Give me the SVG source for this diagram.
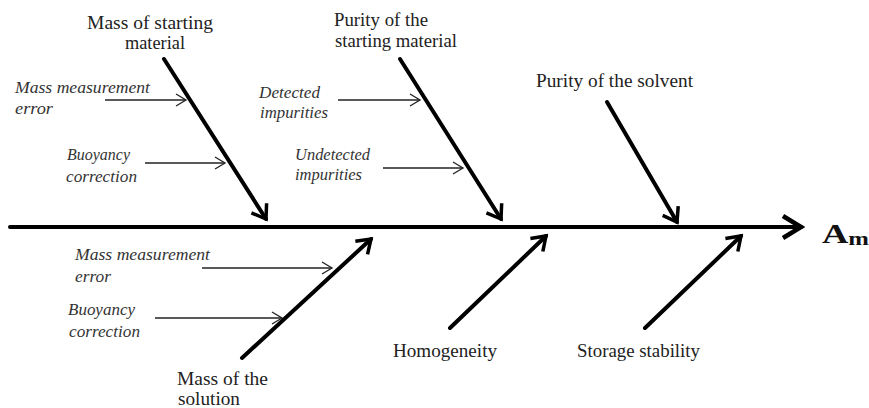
<svg xmlns="http://www.w3.org/2000/svg" width="869" height="408" viewBox="0 0 869 408">
<style>
.lbl{font-family:"Liberation Serif","Times New Roman",serif;font-size:18px;fill:#222}
.it{font-family:"Liberation Serif","Times New Roman",serif;font-style:italic;font-size:17px;fill:#333}
.bone{stroke:#000;stroke-width:4;fill:none;stroke-linecap:round}
.sm{stroke:#222;stroke-width:1.3;fill:none}
</style>
<defs>
<marker id="big" markerUnits="userSpaceOnUse" viewBox="-20 -14 24 28" markerWidth="24" markerHeight="28" refX="0" refY="0" orient="auto">
<path d="M-13,-9 L0,0 L-13,9" fill="none" stroke="#000" stroke-width="3.5" stroke-linejoin="miter"/>
</marker>
<marker id="spine" markerUnits="userSpaceOnUse" viewBox="-24 -16 28 32" markerWidth="28" markerHeight="32" refX="0" refY="0" orient="auto">
<path d="M-18,-11 L0,0 L-18,11" fill="none" stroke="#000" stroke-width="4.5" stroke-linejoin="miter"/>
</marker>
<marker id="small" markerUnits="userSpaceOnUse" viewBox="-12 -8 14 16" markerWidth="14" markerHeight="16" refX="0" refY="0" orient="auto">
<path d="M-10,-6 L0,0 L-10,6" fill="none" stroke="#222" stroke-width="1.3"/>
</marker>
</defs>
<g id="connectors">
<line class="bone" x1="10" y1="227" x2="801" y2="227" marker-end="url(#spine)" stroke-width="4.5"/>
<line class="bone" x1="164" y1="59" x2="266" y2="219" marker-end="url(#big)"/>
<line class="bone" x1="400" y1="59" x2="501" y2="219" marker-end="url(#big)"/>
<line class="bone" x1="607" y1="102" x2="677" y2="222" marker-end="url(#big)"/>
<line class="bone" x1="242" y1="358" x2="371" y2="239" marker-end="url(#big)"/>
<line class="bone" x1="450" y1="328" x2="546" y2="236" marker-end="url(#big)"/>
<line class="bone" x1="645" y1="328" x2="741" y2="236" marker-end="url(#big)"/>
<line class="sm" x1="105" y1="100" x2="186" y2="100" marker-end="url(#small)"/>
<line class="sm" x1="145" y1="163" x2="225" y2="163" marker-end="url(#small)"/>
<line class="sm" x1="338" y1="100" x2="420" y2="100" marker-end="url(#small)"/>
<line class="sm" x1="383" y1="168" x2="463" y2="168" marker-end="url(#small)"/>
<line class="sm" x1="202" y1="268" x2="332" y2="268" marker-end="url(#small)"/>
<line class="sm" x1="155" y1="318" x2="282" y2="318" marker-end="url(#small)"/>
</g>
<g id="node-mass-starting">
<text class="lbl" x="87" y="29" textLength="126" lengthAdjust="spacingAndGlyphs">Mass of starting</text>
<text class="lbl" x="125" y="49" textLength="60" lengthAdjust="spacingAndGlyphs">material</text>
</g>
<g id="node-mme-upper">
<text class="it" x="15" y="93" textLength="135" lengthAdjust="spacingAndGlyphs">Mass measurement</text>
<text class="it" x="15" y="114" textLength="38" lengthAdjust="spacingAndGlyphs">error</text>
</g>
<g id="node-buoy-upper">
<text class="it" x="67" y="160" textLength="63" lengthAdjust="spacingAndGlyphs">Buoyancy</text>
<text class="it" x="66" y="182" textLength="71" lengthAdjust="spacingAndGlyphs">correction</text>
</g>
<g id="node-purity-start">
<text class="lbl" x="334" y="26" textLength="94" lengthAdjust="spacingAndGlyphs">Purity of the</text>
<text class="lbl" x="335" y="47" textLength="122" lengthAdjust="spacingAndGlyphs">starting material</text>
</g>
<g id="node-detected">
<text class="it" x="259" y="98" textLength="61" lengthAdjust="spacingAndGlyphs">Detected</text>
<text class="it" x="260" y="118" textLength="68" lengthAdjust="spacingAndGlyphs">impurities</text>
</g>
<g id="node-undetected">
<text class="it" x="295" y="160" textLength="75" lengthAdjust="spacingAndGlyphs">Undetected</text>
<text class="it" x="295" y="180" textLength="67" lengthAdjust="spacingAndGlyphs">impurities</text>
</g>
<g id="node-purity-solvent">
<text class="lbl" x="536" y="87" textLength="157" lengthAdjust="spacingAndGlyphs">Purity of the solvent</text>
</g>
<g id="node-mme-lower">
<text class="it" x="75" y="260" textLength="135" lengthAdjust="spacingAndGlyphs">Mass measurement</text>
<text class="it" x="75" y="282" textLength="36" lengthAdjust="spacingAndGlyphs">error</text>
</g>
<g id="node-buoy-lower">
<text class="it" x="68" y="315" textLength="67" lengthAdjust="spacingAndGlyphs">Buoyancy</text>
<text class="it" x="69" y="337" textLength="71" lengthAdjust="spacingAndGlyphs">correction</text>
</g>
<g id="node-mass-solution">
<text class="lbl" x="177" y="385" textLength="91" lengthAdjust="spacingAndGlyphs">Mass of the</text>
<text class="lbl" x="178" y="405" textLength="62" lengthAdjust="spacingAndGlyphs">solution</text>
</g>
<g id="node-homogeneity">
<text class="lbl" x="393" y="357" textLength="104" lengthAdjust="spacingAndGlyphs">Homogeneity</text>
</g>
<g id="node-storage">
<text class="lbl" x="577" y="357" textLength="123" lengthAdjust="spacingAndGlyphs">Storage stability</text>
</g>
<g id="node-am">
<text x="822" y="243" textLength="47" lengthAdjust="spacingAndGlyphs" style="font-family:'Liberation Serif','Times New Roman',serif;font-weight:bold;font-size:28px;fill:#111">A<tspan font-size="19" dy="2">m</tspan></text>
</g>
</svg>
